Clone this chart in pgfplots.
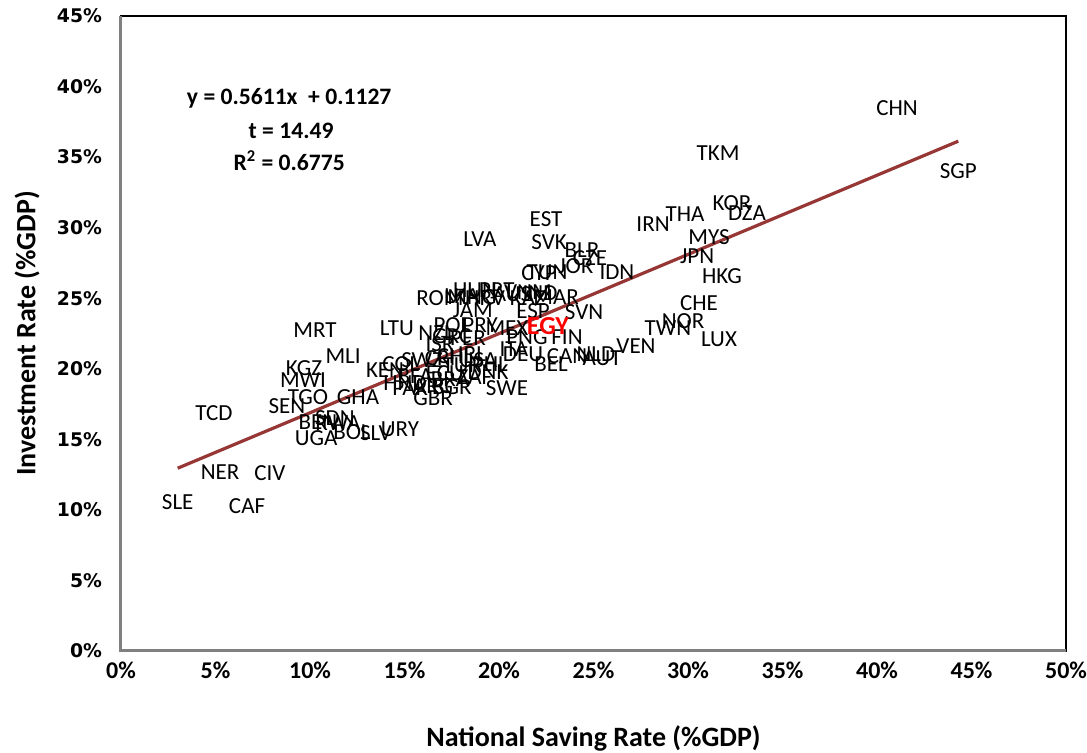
\documentclass[border=0pt]{standalone}
\usepackage{pgfplots}
\usepackage{pgfplotstable}
\pgfplotsset{compat=1.18}
\usepackage{fontspec}
\setmainfont{Carlito}
\newfontfamily\dejavu{DejaVu Sans}
\definecolor{trend}{RGB}{150,55,53}
\definecolor{egyred}{RGB}{255,0,0}
\definecolor{framegray}{RGB}{128,128,128}

\pgfplotstableread{
x y label
41.06 38.44 CHN
44.30 34.04 SGP
31.59 35.25 TKM
32.33 31.77 KOR
33.12 31.06 DZA
29.84 30.99 THA
28.15 30.28 IRN
31.11 29.36 MYS
30.48 28.01 JPN
31.80 26.60 HKG
30.58 24.68 CHE
29.74 23.40 NOR
28.94 22.91 TWN
31.64 22.13 LUX
27.25 21.63 VEN
22.49 30.64 EST
22.65 28.94 SVK
24.39 28.44 BLR
24.81 27.87 CZE
24.07 27.30 JOR
26.24 26.88 IDN
22.12 26.81 CYP
22.54 26.81 TUN
18.99 29.22 LVA
16.88 25.04 ROM
14.60 22.84 LTU
18.62 24.18 JAM
21.80 24.11 ESP
24.50 24.04 SVN
20.42 22.91 MEX
19.00 23.12 PRY
17.51 23.12 POL
16.67 22.55 NZL
17.51 22.34 GRC
18.36 22.20 PER
21.48 22.27 PNG
23.60 22.27 FIN
16.88 21.77 ISR
20.79 21.42 ITA
21.27 21.06 DEU
23.60 20.92 CAN
25.13 21.06 NLD
25.45 20.78 AUT
22.75 20.35 BEL
13.97 19.93 KEN
14.81 20.35 COL
15.93 20.64 SWZ
16.88 20.78 CRI
17.67 20.92 CHL
18.57 21.06 IRL
18.89 20.64 USA
18.04 20.28 TUR
19.52 20.35 PHL
17.14 19.72 ECU
18.73 19.43 ZAF
19.42 19.79 DNK
15.03 19.01 HND
15.56 19.50 BFA
17.41 19.29 BRA
15.29 18.65 PAK
16.51 18.79 ARG
17.51 18.72 BGR
16.51 17.94 GBR
20.42 18.65 SWE
18.04 25.18 LKA
18.73 25.60 HUN
19.89 25.60 PRT
18.57 25.11 MNG
20.69 25.32 AUS
21.53 25.46 VNM
22.17 25.39 IND
21.53 25.04 KAZ
23.02 25.11 MAR
19.26 25.04 HRV
10.26 22.77 MRT
11.75 20.92 MLI
9.68 20.07 KGZ
9.63 19.22 MWI
9.89 18.01 TGO
12.54 18.01 GHA
8.78 17.38 SEN
4.92 16.88 TCD
10.42 16.24 BEN
11.32 16.52 SDN
11.48 16.17 RWA
10.32 15.11 UGA
12.22 15.53 BOL
13.49 15.46 SLV
14.76 15.74 URY
5.24 12.70 NER
7.88 12.62 CIV
3.00 10.57 SLE
6.67 10.28 CAF
}\countries

\pgfplotstableread{
x y label
22.59 23.05 EGY
}\egypt

\begin{document}
\begin{tikzpicture}
\begin{axis}[
  width=472.5pt, height=317.5pt, scale only axis,
  xmin=0, xmax=50, ymin=0, ymax=45,
  xtick={0,5,...,50},
  xticklabels={0\%,5\%,10\%,15\%,20\%,25\%,30\%,35\%,40\%,45\%,50\%},
  ytick={0,5,...,45},
  yticklabels={0\%,5\%,10\%,15\%,20\%,25\%,30\%,35\%,40\%,45\%},
  major tick length=0pt,
  xticklabel style={font=\fontsize{12}{14}\selectfont\bfseries, yshift=-2pt},
  yticklabel style={font=\dejavu\fontsize{9.4}{11}\selectfont\bfseries, xshift=-6pt},
  axis line style={black, line width=1pt},
  xlabel={National Saving Rate (\%GDP)},
  ylabel={Investment Rate (\%GDP)},
  xlabel style={font=\fontsize{14}{16}\selectfont\bfseries, at={(axis description cs:0.5,0)}, anchor=center, yshift=-43.5pt},
  ylabel style={font=\fontsize{14}{16}\selectfont\bfseries, at={(axis description cs:0,0.5)}, anchor=center, yshift=47pt},
  clip=false,
]
\addplot[draw=none, mark=none, nodes near coords, point meta=explicit symbolic,
  every node near coord/.append style={anchor=center, inner sep=0pt, font=\fontsize{11.5}{13}\selectfont, text=black}]
  table[x=x, y=y, meta=label]{\countries};
\addplot[draw=none, mark=none, nodes near coords, point meta=explicit symbolic,
  every node near coord/.append style={anchor=center, inner sep=0pt, font=\fontsize{13}{15}\selectfont\bfseries, text=egyred}]
  table[x=x, y=y, meta=label]{\egypt};
\addplot[trend, line width=1.6pt, mark=none] coordinates {(3.0,12.953) (44.3,36.127)};
\node[font=\fontsize{11.8}{13}\selectfont\bfseries] at (axis cs:8.9,39.15) {y = 0.5611x \ + 0.1127};
\node[font=\fontsize{11.8}{13}\selectfont\bfseries] at (axis cs:9.0,36.88) {t = 14.49};
\node[font=\fontsize{11.8}{13}\selectfont\bfseries] at (axis cs:8.9,34.75) {R\textsuperscript{2} = 0.6775};
\draw[framegray, line width=1.5pt] (rel axis cs:0,1) -- (rel axis cs:0,0) -- (rel axis cs:1,0);
\coordinate (A) at (rel axis cs:0,0);
\coordinate (B) at (rel axis cs:1,1);
\end{axis}
\pgfresetboundingbox
\path ([shift={(-60.5pt,-51pt)}]A) rectangle ([shift={(10.5pt,8pt)}]B);
\end{tikzpicture}
\end{document}
